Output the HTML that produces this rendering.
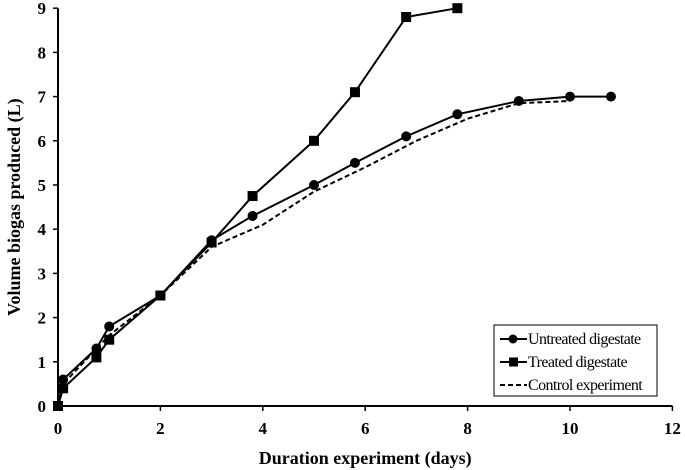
<!DOCTYPE html>
<html><head><meta charset="utf-8"><style>
body{margin:0;background:#fff}
svg{display:block;font-family:"Liberation Serif",serif}
</style></head><body>
<svg width="685" height="470" id="c">
</svg>
<script>
const xTicks=[0,2,4,6,8,10,12];
const yTicks=[0,1,2,3,4,5,6,7,8,9];
const untreatedX=[0,0.1,0.75,1,2,3,3.8,5,5.8,6.8,7.8,9,10,10.8];
const untreatedY=[0,0.6,1.3,1.8,2.5,3.75,4.3,5,5.5,6.1,6.6,6.9,7,7];
const treatedX=[0,0.1,0.75,1,2,3,3.8,5,5.8,6.8,7.8];
const treatedY=[0,0.4,1.1,1.5,2.5,3.7,4.75,6,7.1,8.8,9];
const controlX=[0,0.1,1,2,3,4,5,6,7,8,9,10];
const controlY=[0,0.5,1.6,2.5,3.6,4.1,4.85,5.4,6.0,6.5,6.85,6.9];
const NS="http://www.w3.org/2000/svg";
const svg=document.getElementById('c');
const X=v=>58+v*51.2, Y=v=>406-v*44.2;
function mk(t,a,p){const e=document.createElementNS(NS,t);for(const k in a)e.setAttribute(k,a[k]);(p||svg).appendChild(e);return e;}
let ax=mk('path',{d:`M${X(0)} ${Y(9)}V${Y(0)}H${X(12)}`,stroke:'#000','stroke-width':2,fill:'none'});


xTicks.forEach(t=>{
 const l=mk('line',{x1:X(t),x2:X(t),y1:Y(0),y2:Y(0)+5,stroke:'#000','stroke-width':1.5});
 
 
 const tx=mk('text',{x:X(t),y:Y(0)+28,'text-anchor':'middle','font-size':17,'font-weight':'bold'});tx.textContent=t;
 
 
});
yTicks.forEach(t=>{
 const l=mk('line',{x1:X(0)-5,x2:X(0),y1:Y(t),y2:Y(t),stroke:'#000','stroke-width':1.5});
 
 
 const tx=mk('text',{x:X(0)-12,y:Y(t)+6,'text-anchor':'end','font-size':17,'font-weight':'bold'});tx.textContent=t;
 
 
});
function series(xs,ys,name,dash,marker){
 const g=mk('g',{});
 
 
 mk('polyline',{points:xs.map((x,i)=>X(x)+','+Y(ys[i])).join(' '),fill:'none',stroke:'#000','stroke-width':2,'stroke-dasharray':dash||''},g);
 xs.forEach((x,i)=>{
  let m;
  if(marker==='circle')m=mk('circle',{cx:X(x),cy:Y(ys[i]),r:5,fill:'#000'},g);
  else if(marker==='square')m=mk('rect',{x:X(x)-5,y:Y(ys[i])-5,width:10,height:10,fill:'#000'},g);
  if(m){
  }
 });
}
series(controlX,controlY,'control-series','5,3',null);
series(untreatedX,untreatedY,'untreated-series','',  'circle');
series(treatedX,treatedY,'treated-series','','square');
const xt=mk('text',{x:X(6),y:464,'text-anchor':'middle','font-size':18,'font-weight':'bold'});xt.textContent='Duration experiment (days)';


const yt=mk('text',{x:0,y:0,'text-anchor':'middle','font-size':18,'font-weight':'bold',transform:`translate(20,${Y(4.5)}) rotate(-90)`});yt.textContent='Volume biogas produced (L)';


const lg=mk('g',{});


mk('rect',{x:494,y:325,width:163,height:71,fill:'#fff',stroke:'#000','stroke-width':1},lg);
[['Untreated digestate','circle',''],['Treated digestate','square',''],['Control experiment',null,'5,3']].forEach((e,i)=>{
 const y=339+i*23;
 const en=mk('g',{},lg);
 
 
 mk('line',{x1:500,x2:527,y1:y,y2:y,stroke:'#000','stroke-width':2,'stroke-dasharray':e[2]},en);
 if(e[1]==='circle')mk('circle',{cx:513,cy:y,r:4.5,fill:'#000'},en);
 if(e[1]==='square')mk('rect',{x:509,y:y-4.5,width:9,height:9,fill:'#000'},en);
 const t=mk('text',{x:528,y:y+5,'font-size':16,'letter-spacing':'-0.6'},en);t.textContent=e[0];
});
</script>
</body></html>
